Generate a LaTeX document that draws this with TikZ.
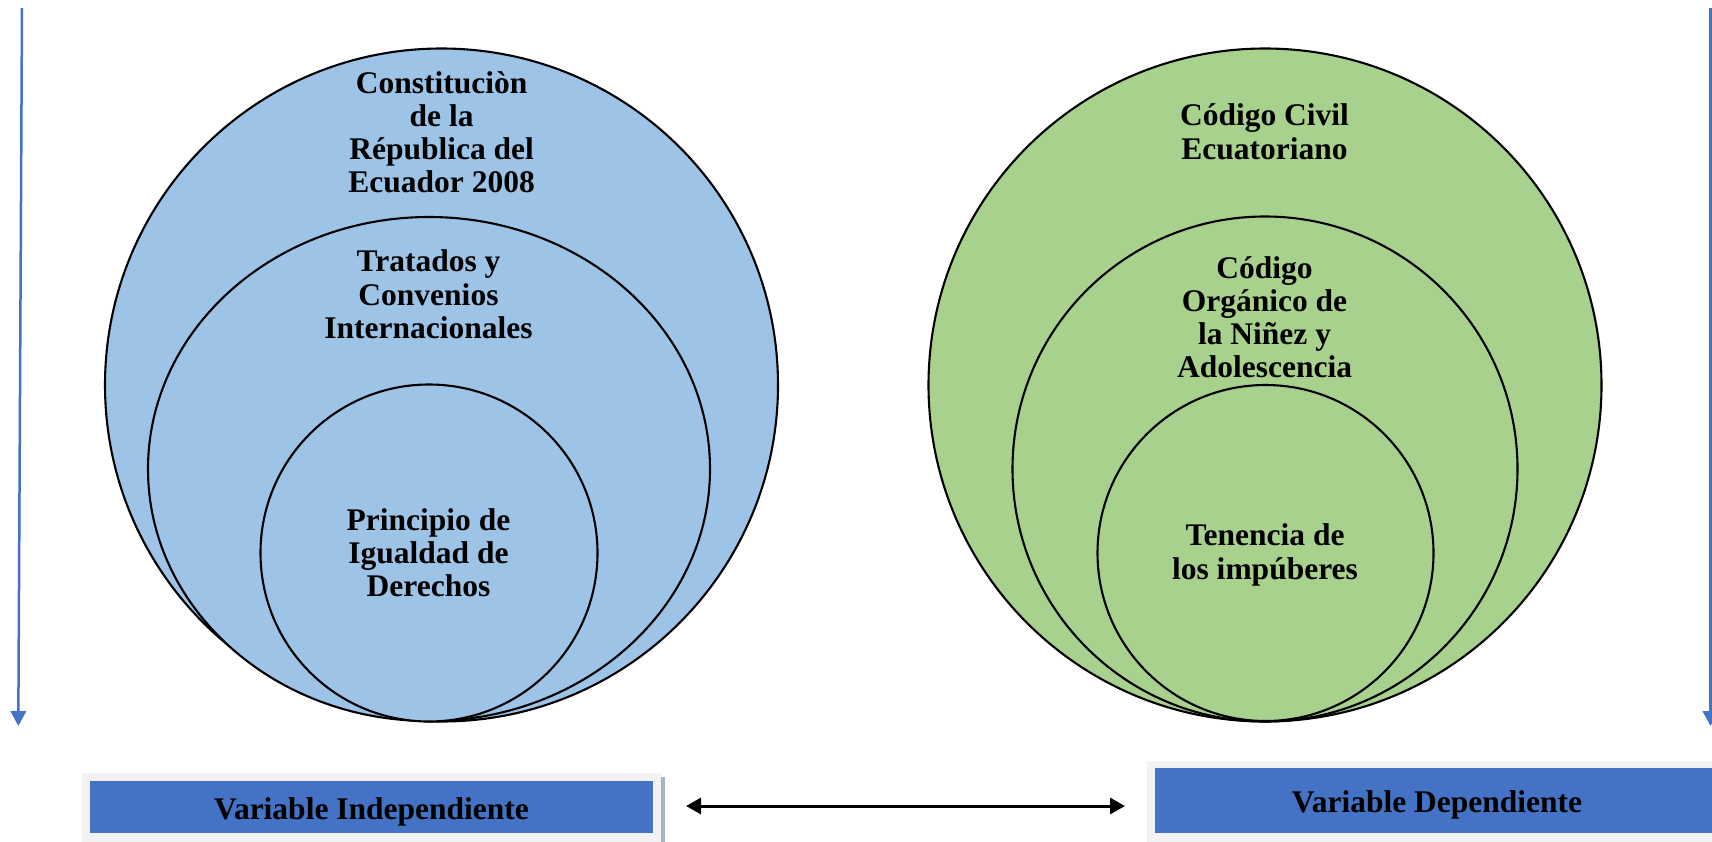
\documentclass[tikz,border=0pt]{standalone}
\usepackage{fontspec}
\setmainfont{Liberation Serif}
\usetikzlibrary{arrows.meta,shapes.geometric}
\definecolor{cblue}{HTML}{9DC3E6}
\definecolor{cgreen}{HTML}{A9D18E}
\definecolor{boxblue}{HTML}{4472C4}
\definecolor{boxgray}{HTML}{F2F2F2}
\definecolor{shadowgray}{HTML}{A9B3C6}
\tikzset{
  ring/.style={draw=black, line width=2.1pt, inner sep=0pt, outer sep=0pt},
  circ/.style={ring, circle},
  ellip/.style={ring, ellipse},
  txt/.style={font=\bfseries\fontsize{31.5}{33.2}\selectfont, align=center, anchor=base, inner sep=0pt},
  grayback/.style={fill=boxgray, draw=none, rectangle, inner sep=0pt, outer sep=0pt},
  bluebox/.style={fill=boxblue, draw=none, rectangle, inner sep=0pt, outer sep=0pt},
  shadowbar/.style={fill=shadowgray, draw=none, rectangle, inner sep=0pt, outer sep=0pt},
  sidearrow/.style={draw=boxblue, line width=2.5pt, -{Triangle[length=15pt,width=15.5pt]}},
  linkarrow/.style={draw=black, line width=3pt, {Triangle[length=15pt,width=16pt]}-{Triangle[length=15pt,width=16pt]}}
}
\begin{document}
\begin{tikzpicture}[x=1pt,y=-1pt]
\useasboundingbox (0,0) rectangle (1712,841);
% side arrows
\coordinate (lt) at (22,8);
\coordinate (lb) at (18.3,726);
\coordinate (rt) at (1710.5,8);
\coordinate (rb) at (1710.5,726);
\draw[sidearrow] (lt) -- (lb);
\draw[sidearrow] (rt) -- (rb);
% left circles
\node[circ, fill=cblue, minimum size=673pt] (lo) at (441.5,385) {};
\node[ellip, fill=cblue, minimum width=562pt, minimum height=504pt] (lm) at (429,469) {};
\node[circ, fill=cblue, minimum size=337pt] (li) at (429,553) {};
% right circles
\node[circ, fill=cgreen, minimum size=673pt] (ro) at (1265,385) {};
\node[circ, fill=cgreen, minimum size=505pt] (rm) at (1265,469) {};
\node[circ, fill=cgreen, minimum size=336pt] (ri) at (1265.5,553) {};
% circle texts (anchor base = last line baseline)
\node[txt] (t1) at (441.6,192.6) {Constituciòn\\de la\\Républica del\\Ecuador 2008};
\node[txt] (t2) at (428.5,338.3) {Tratados y\\Convenios\\Internacionales};
\node[txt] (t3) at (428.5,596.7) {Principio de\\Igualdad de\\Derechos};
\node[txt] (t4) at (1264.5,159) {Código Civil\\Ecuatoriano};
\node[txt] (t5) at (1264.5,377.7) {Código\\Orgánico de\\la Niñez y\\Adolescencia};
\node[txt] (t6) at (1265,579) {Tenencia de\\los impúberes};
% bottom boxes
\node[shadowbar, minimum width=4pt, minimum height=70pt] (lsh) at (663,812) {};
\node[grayback, minimum width=579pt, minimum height=72pt] (lg) at (371.5,809) {};
\node[bluebox, minimum width=563pt, minimum height=52pt] (lv) at (371.5,807) {};
\node[txt] (lvt) at (371.5,819) {Variable Independiente};
\node[grayback, minimum width=573pt, minimum height=84pt] (rg) at (1433.5,803) {};
\node[bluebox, minimum width=564pt, minimum height=65pt] (rv) at (1437,800.5) {};
\node[txt] (rvt) at (1437,812) {Variable Dependiente};
% link arrow
\coordinate (a1) at (686,806);
\coordinate (a2) at (1125,806);
\draw[linkarrow] (a1) -- (a2);
\end{tikzpicture}
\end{document}
